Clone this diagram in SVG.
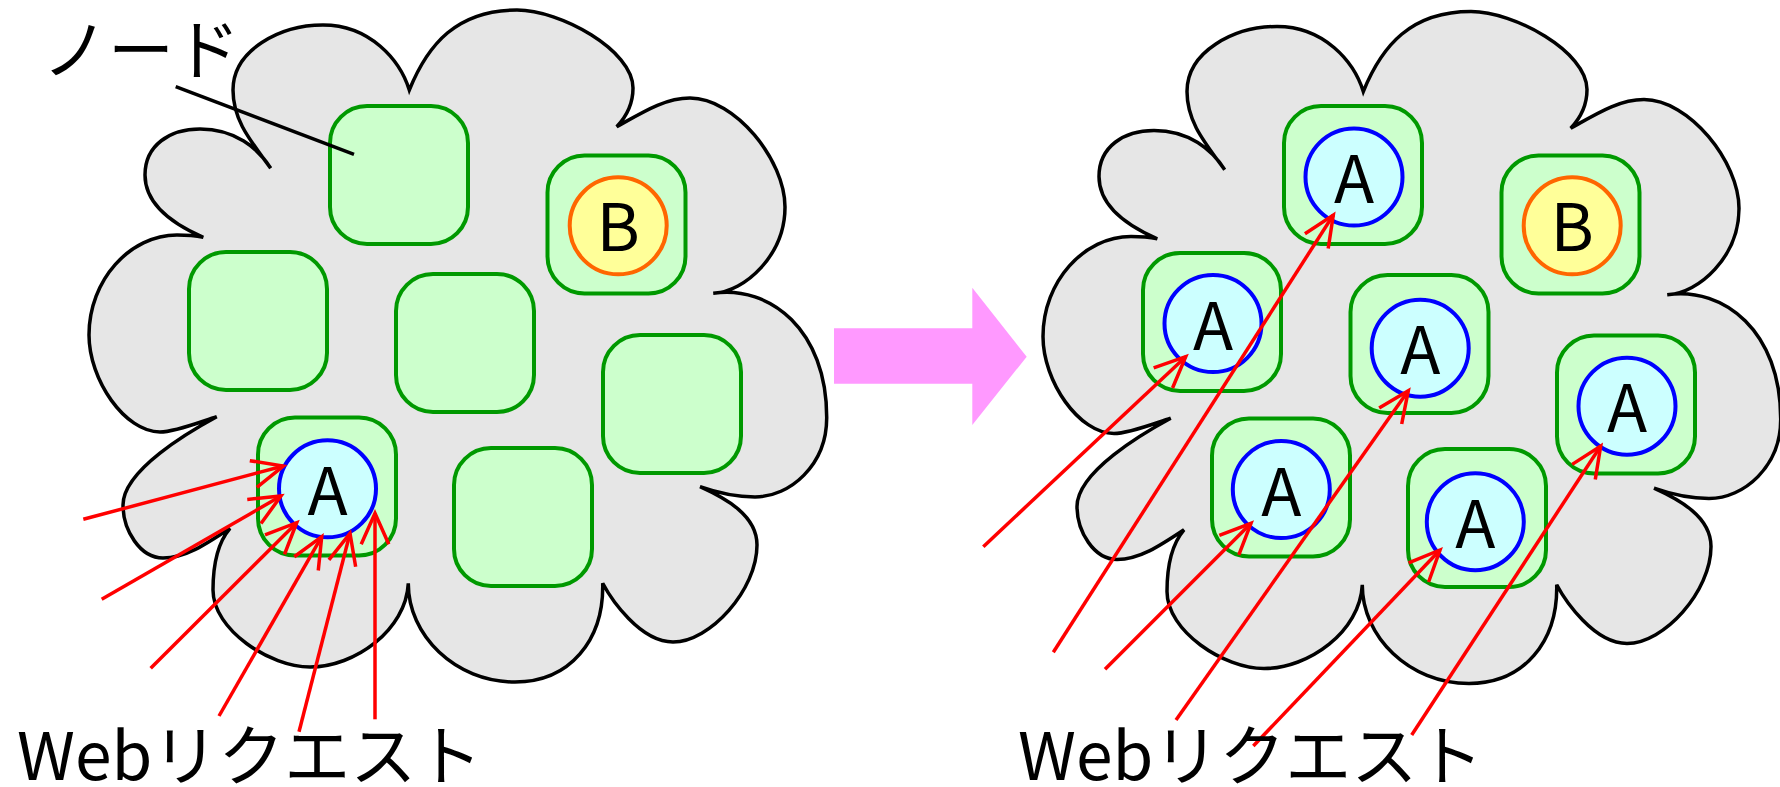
<svg xmlns="http://www.w3.org/2000/svg" xmlns:xlink="http://www.w3.org/1999/xlink" width="1780" height="787" viewBox="0 0 1780 787">
  <style>
    .cloud { fill: #e6e6e6; stroke: #000; stroke-width: 3.5; }
    .node { fill: #ccffcc; stroke: #009900; stroke-width: 4; }
    .srvA { fill: #ccffff; stroke: #0000ff; stroke-width: 4; }
    .srvB { fill: #ffff99; stroke: #ff6600; stroke-width: 4; }
    .lbl { font-family: "Noto Sans CJK JP", "Noto Sans", sans-serif; font-size: 66px; fill: #000; }
    .mid { text-anchor: middle; }
    .req { stroke: #ff0000; stroke-width: 3.5; fill: none; marker-end: url(#head); }
    .leader { stroke: #000; stroke-width: 3.5; fill: none; }
  </style>
  <defs>
    <marker id="head" markerUnits="userSpaceOnUse" viewBox="-36 -20 40 40" markerWidth="40" markerHeight="40" refX="0" refY="0" orient="auto" overflow="visible">
      <path d="M -31,-13.8 L 0,0 L -31,13.8" fill="none" stroke="#ff0000" stroke-width="3.5"/>
    </marker>
    <!-- cloud outline made of ten lobes, clockwise from the top cusp -->
    <path id="cloudShape" d="M 409.3,90
      C 428,44 457,10 517,10 C 560,10 633,50 633,88 C 633,103 626,117 616.7,126.7
      C 643,112 665,98 690,98 C 735,98 785,160 785,207 C 785,255 745,292 713.3,293.3
      C 770,285 827,330 826.7,418 C 826.7,465 790,497 755,497 C 735,497 715,492 700,486.7
      C 725,498 757,515 757,545 C 757,590 710,642 673,642 C 640,642 611,599 602.7,583.3
      C 604,640 570,682 515,682 C 455,682 408,635 408.3,583.3
      C 406,630 355,667 310,667 C 270,667 213,630 213,590 C 213,560 220,540 230,528.3
      C 205,545 185,558 163,558 C 140,558 123,530 123,505 C 123,470 190.3,431 216.7,416.7
      C 200,422 175,432 160,432 C 125,432 89,380 89,335 C 89,280 130,235 177,235 C 190,235 197,236 203.3,237.3
      C 175,225 145,205 145,175 C 145,145 170,129 200,129 C 235,129 258,148 270.7,168.3
      C 250,140 233,120 233,90 C 233,50 280,25 323,25 C 370,25 400,60 409.3,90 Z"/>
  </defs>

  <!-- before: one node receives all requests -->
  <g id="cloud-before">
    <use xlink:href="#cloudShape" href="#cloudShape" class="cloud"/>
  </g>
  <g id="before-node-1"><rect class="node" x="330" y="106" width="138" height="138" rx="37"/></g>
  <g id="before-node-2"><rect class="node" x="189" y="252" width="138" height="138" rx="37"/></g>
  <g id="before-node-3"><rect class="node" x="396" y="274" width="138" height="138" rx="37"/></g>
  <g id="before-node-b">
    <rect class="node" x="547.5" y="155.5" width="138" height="138" rx="37"/>
    <circle class="srvB" cx="618.2" cy="225.8" r="48.5"/>
    <text class="lbl mid" x="618.2" y="250.5">B</text>
  </g>
  <g id="before-node-4"><rect class="node" x="603" y="335" width="138" height="138" rx="37"/></g>
  <g id="before-node-5"><rect class="node" x="454" y="448" width="138" height="138" rx="37"/></g>
  <g id="before-node-a">
    <rect class="node" x="258" y="417.5" width="138" height="138" rx="37"/>
    <circle class="srvA" cx="327.5" cy="488.8" r="48.5"/>
    <text class="lbl mid" x="327.5" y="514.5">A</text>
  </g>

  <g id="label-node">
    <text class="lbl" x="42" y="74">ノード</text>
    <line class="leader" x1="175.7" y1="86.7" x2="354" y2="154.3"/>
  </g>

  <!-- transition arrow -->
  <g id="transition">
    <polygon points="834,328.3 972.3,328.3 972.3,287.7 1026.7,356.7 972.3,425 972.3,383.8 834,383.8" fill="#ff99ff"/>
  </g>

  <!-- after: every node runs A -->
  <g id="cloud-after">
    <use xlink:href="#cloudShape" href="#cloudShape" class="cloud" transform="translate(954,1.5)"/>
  </g>
  <g id="after-node-1">
    <rect class="node" x="1284" y="106" width="138" height="138" rx="37"/>
    <circle class="srvA" cx="1354" cy="177" r="48.5"/>
    <text class="lbl mid" x="1354" y="203">A</text>
  </g>
  <g id="after-node-2">
    <rect class="node" x="1143" y="253" width="138" height="138" rx="37"/>
    <circle class="srvA" cx="1213" cy="323.5" r="48.5"/>
    <text class="lbl mid" x="1213" y="349.5">A</text>
  </g>
  <g id="after-node-3">
    <rect class="node" x="1350.5" y="275" width="138" height="138" rx="37"/>
    <circle class="srvA" cx="1420.2" cy="348.2" r="48.5"/>
    <text class="lbl mid" x="1420.2" y="374">A</text>
  </g>
  <g id="after-node-b">
    <rect class="node" x="1501.5" y="155.5" width="138" height="138" rx="37"/>
    <circle class="srvB" cx="1572.2" cy="225.8" r="48.5"/>
    <text class="lbl mid" x="1572.2" y="250.5">B</text>
  </g>
  <g id="after-node-4">
    <rect class="node" x="1557" y="335.5" width="138" height="138" rx="37"/>
    <circle class="srvA" cx="1627" cy="406.2" r="48.5"/>
    <text class="lbl mid" x="1627" y="432">A</text>
  </g>
  <g id="after-node-5">
    <rect class="node" x="1408" y="449" width="138" height="138" rx="37"/>
    <circle class="srvA" cx="1475.3" cy="521.7" r="48.5"/>
    <text class="lbl mid" x="1475.3" y="547.5">A</text>
  </g>
  <g id="after-node-a">
    <rect class="node" x="1212" y="418.5" width="138" height="138" rx="37"/>
    <circle class="srvA" cx="1281.3" cy="489.5" r="48.5"/>
    <text class="lbl mid" x="1281.3" y="515.5">A</text>
  </g>

  <!-- web requests -->
  <g id="connectors">
    <line class="req" x1="83.3" y1="519.3" x2="283.3" y2="466"/>
    <line class="req" x1="101.7" y1="599.3" x2="281" y2="496"/>
    <line class="req" x1="150.7" y1="668.3" x2="296.7" y2="522.7"/>
    <line class="req" x1="219" y1="716" x2="321.7" y2="536.7"/>
    <line class="req" x1="299" y1="731.7" x2="350" y2="533.3"/>
    <line class="req" x1="375" y1="719.3" x2="375" y2="513.3"/>

    <line class="req" x1="983.3" y1="546.7" x2="1185.7" y2="356.7"/>
    <line class="req" x1="1053.3" y1="652.3" x2="1333.3" y2="215"/>
    <line class="req" x1="1105" y1="669.3" x2="1251" y2="523.3"/>
    <line class="req" x1="1176" y1="720" x2="1408.3" y2="390.7"/>
    <line class="req" x1="1253.3" y1="746" x2="1440" y2="550"/>
    <line class="req" x1="1411.7" y1="735" x2="1600.7" y2="446"/>
  </g>

  <g id="label-requests">
    <text class="lbl" x="17" y="780">Webリクエスト</text>
    <text class="lbl" x="1018" y="780">Webリクエスト</text>
  </g>
</svg>
